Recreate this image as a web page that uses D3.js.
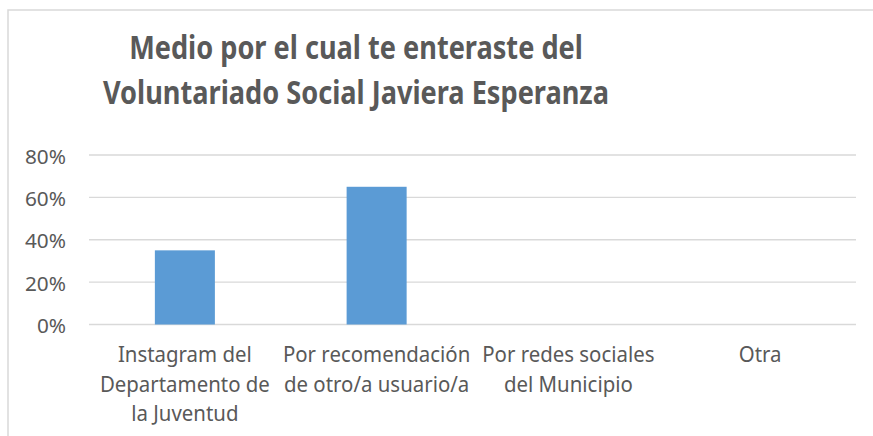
<!DOCTYPE html>
<html>
<head>
<meta charset="utf-8">
<script src="https://cdn.jsdelivr.net/npm/d3@7"></script>
<style>
  html, body { margin: 0; padding: 0; background: #fff; }
  svg { display: block; }
</style>
</head>
<body>
<svg id="chart" width="873" height="436"></svg>
<script>
const titleLines = ["Medio por el cual te enteraste del", "Voluntariado Social Javiera Esperanza"];
const categories = [
  "Instagram del Departamento de la Juventud",
  "Por recomendación de otro/a usuario/a",
  "Por redes sociales del Municipio",
  "Otra"
];
const categoryLabelLines = [
  ["Instagram del", "Departamento de", "la Juventud"],
  ["Por recomendación", "de otro/a usuario/a"],
  ["Por redes sociales", "del Municipio"],
  ["Otra"]
];
const values = [0.35, 0.65, 0, 0];
const yTicks = [0, 0.2, 0.4, 0.6, 0.8];

const svg = d3.select("#chart");
const W = 873, H = 436;
const textColor = "#595959";
const gridColor = "#d9d9d9";
const barColor = "#5b9bd5";
const font = "'Noto Sans', 'Open Sans', sans-serif";

svg.append("rect").attr("width", W).attr("height", H).attr("fill", "#fff");

// chart border (partially visible)
svg.append("path")
  .attr("d", "M8,436 L8,10 L873,10")
  .attr("fill", "none").attr("stroke", gridColor).attr("stroke-width", 1.5);

const x = d3.scaleBand().domain(categories).range([89, 856]).paddingInner(0.687).paddingOuter(0.3435);
const y = d3.scaleLinear().domain([0, 0.8]).range([324.5, 155]);

function measure(text, weight, size) {
  const t = svg.append("text").attr("font-family", font).attr("font-weight", weight)
    .attr("font-size", size).text(text);
  const w = t.node().getComputedTextLength();
  t.remove();
  return w;
}

// gridlines
svg.append("g").selectAll("line").data(yTicks).join("line")
  .attr("x1", 89).attr("x2", 856)
  .attr("y1", d => y(d)).attr("y2", d => y(d))
  .attr("stroke", gridColor).attr("stroke-width", 1.3);

// y axis labels
const tickSize = 20.5;
const yAxis = d3.axisLeft(y).tickValues(yTicks).tickFormat(d3.format(".0%")).tickSize(0).tickPadding(0);
const yg = svg.append("g").attr("transform", "translate(66,0)").call(yAxis);
yg.select(".domain").remove();
yg.selectAll("text")
  .attr("font-family", font).attr("font-size", tickSize).attr("fill", textColor)
  .attr("dy", null).attr("dominant-baseline", "central");
const tickSx = 41 / measure("80%", 400, tickSize);
yg.selectAll("text").each(function () {
  const w = this.getComputedTextLength();
  d3.select(this).attr("textLength", w * tickSx).attr("lengthAdjust", "spacingAndGlyphs");
});

// bars
svg.append("g").selectAll("rect").data(values).join("rect")
  .attr("x", (d, i) => x(categories[i]))
  .attr("width", x.bandwidth())
  .attr("y", d => y(d))
  .attr("height", d => y(0) - y(d))
  .attr("fill", barColor);

// x axis labels
const catSize = 21;
const catSx = 170 / measure("Departamento de", 400, catSize);
const xg = svg.append("g");
categoryLabelLines.forEach((lines, i) => {
  const cx = x(categories[i]) + x.bandwidth() / 2;
  lines.forEach((ln, j) => {
    const w = measure(ln, 400, catSize);
    xg.append("text")
      .attr("font-family", font).attr("font-size", catSize).attr("fill", textColor)
      .attr("text-anchor", "middle")
      .attr("x", cx).attr("y", 362 + j * 29.5)
      .attr("textLength", w * catSx).attr("lengthAdjust", "spacingAndGlyphs")
      .text(ln);
  });
});

// title
const titleSize = 32;
const titleSx = 506 / measure(titleLines[1], 700, titleSize);
titleLines.forEach((ln, j) => {
  const w = measure(ln, 700, titleSize);
  svg.append("text")
    .attr("font-family", font).attr("font-weight", 700).attr("font-size", titleSize)
    .attr("fill", textColor).attr("text-anchor", "middle")
    .attr("x", 356).attr("y", 59 + j * 45)
    .attr("textLength", w * titleSx).attr("lengthAdjust", "spacingAndGlyphs")
    .text(ln);
});
</script>
</body>
</html>
